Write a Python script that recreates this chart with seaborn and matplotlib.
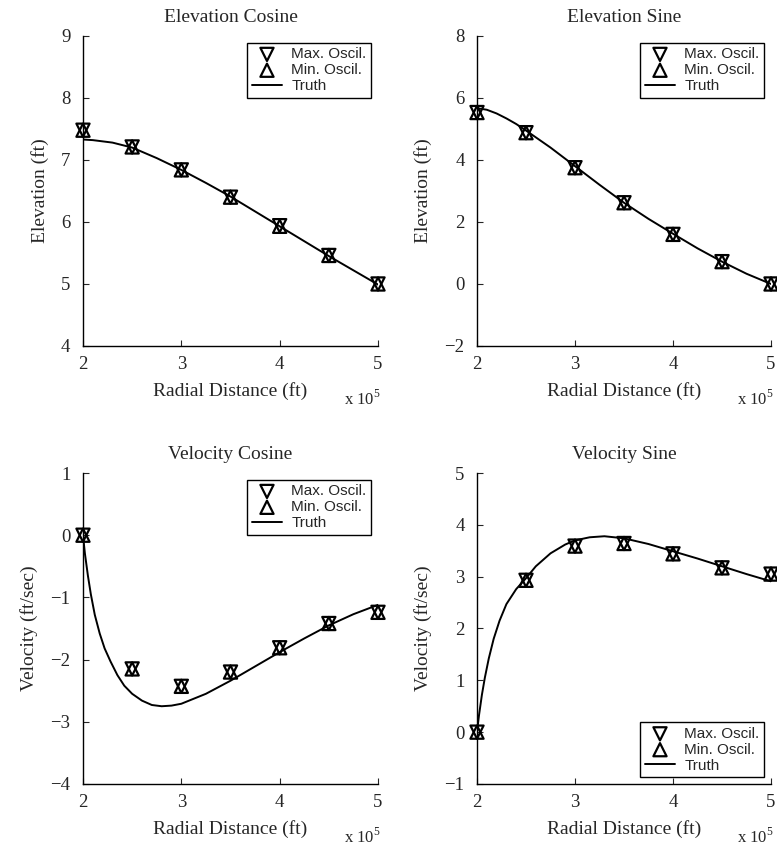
import numpy as np
import pandas as pd
import matplotlib
matplotlib.use("Agg")
import matplotlib.pyplot as plt
import seaborn as sns

# ---------------- data (x in units of 1e5 ft) ----------------
x_mark = [2.0, 2.5, 3.0, 3.5, 4.0, 4.5, 5.0]

elev_cos_max = [7.48, 7.21, 6.84, 6.40, 5.94, 5.46, 5.00]
elev_cos_min = [7.48, 7.21, 6.84, 6.40, 5.93, 5.46, 5.00]
elev_cos_tx = [2.0, 2.1, 2.2, 2.3, 2.4, 2.5, 2.75, 3.0, 3.25, 3.5, 3.75, 4.0, 4.25, 4.5, 4.75, 5.0]
elev_cos_ty = [7.33, 7.32, 7.30, 7.28, 7.24, 7.20, 7.03, 6.84, 6.63, 6.41, 6.17, 5.93, 5.69, 5.45, 5.22, 4.99]

elev_sin_max = [5.53, 4.88, 3.75, 2.62, 1.60, 0.72, 0.00]
elev_sin_min = [5.53, 4.88, 3.75, 2.62, 1.60, 0.72, 0.00]
elev_sin_tx = [2.0, 2.1, 2.2, 2.3, 2.4, 2.5, 2.75, 3.0, 3.25, 3.5, 3.75, 4.0, 4.25, 4.5, 4.75, 5.0]
elev_sin_ty = [5.67, 5.62, 5.50, 5.34, 5.16, 4.95, 4.40, 3.80, 3.20, 2.62, 2.10, 1.62, 1.15, 0.72, 0.33, 0.00]

vel_cos_max = [0.00, -2.15, -2.43, -2.20, -1.81, -1.42, -1.24]
vel_cos_min = [0.00, -2.15, -2.43, -2.20, -1.81, -1.42, -1.24]
vel_cos_tx = [2.0, 2.02, 2.05, 2.08, 2.12, 2.17, 2.22, 2.28, 2.35, 2.42, 2.5, 2.6, 2.7, 2.8, 2.9,
              3.0, 3.25, 3.5, 3.75, 4.0, 4.25, 4.5, 4.75, 5.0]
vel_cos_ty = [0.0, -0.30, -0.65, -0.95, -1.28, -1.58, -1.82, -2.03, -2.25, -2.42, -2.55, -2.66, -2.73, -2.75, -2.74,
              -2.71, -2.55, -2.34, -2.11, -1.88, -1.66, -1.45, -1.27, -1.12]

vel_sin_max = [0.00, 2.93, 3.59, 3.64, 3.44, 3.17, 3.05]
vel_sin_min = [0.00, 2.93, 3.59, 3.64, 3.44, 3.17, 3.05]
vel_sin_tx = [2.0, 2.02, 2.05, 2.08, 2.12, 2.17, 2.23, 2.30, 2.40, 2.5, 2.6, 2.75, 2.9, 3.0, 3.15, 3.3,
              3.5, 3.75, 4.0, 4.25, 4.5, 4.75, 5.0]
vel_sin_ty = [0.0, 0.32, 0.72, 1.05, 1.42, 1.80, 2.15, 2.47, 2.76, 2.97, 3.20, 3.45, 3.62, 3.70, 3.76, 3.78,
              3.74, 3.63, 3.49, 3.35, 3.20, 3.05, 2.91]

titles = ["Elevation Cosine", "Elevation Sine", "Velocity Cosine", "Velocity Sine"]
ylabels = ["Elevation (ft)", "Elevation (ft)", "Velocity (ft/sec)", "Velocity (ft/sec)"]
ylims = [(4, 9), (-2, 8), (-4, 1), (-1, 5)]
yticks = [[4, 5, 6, 7, 8, 9], [-2, 0, 2, 4, 6, 8], [-4, -3, -2, -1, 0, 1], [-1, 0, 1, 2, 3, 4, 5]]
xticks = [2, 3, 4, 5]
legend_locs = ["upper right", "upper right", "upper right", "lower right"]

panels = [
    (elev_cos_max, elev_cos_min, elev_cos_tx, elev_cos_ty),
    (elev_sin_max, elev_sin_min, elev_sin_tx, elev_sin_ty),
    (vel_cos_max, vel_cos_min, vel_cos_tx, vel_cos_ty),
    (vel_sin_max, vel_sin_min, vel_sin_tx, vel_sin_ty),
]

# ---------------- style ----------------
sns.set_style("ticks")
plt.rcParams["font.family"] = ["Liberation Serif", "DejaVu Serif"]
plt.rcParams["mathtext.fontset"] = "custom"
plt.rcParams["mathtext.rm"] = "Liberation Serif"
plt.rcParams["axes.unicode_minus"] = True

fig = plt.figure(figsize=(7.77, 8.48), dpi=100)
rects = [
    [0.1068, 0.5920, 0.3797, 0.3656],
    [0.6139, 0.5920, 0.3784, 0.3656],
    [0.1068, 0.0755, 0.3797, 0.3667],
    [0.6139, 0.0755, 0.3784, 0.3667],
]

for i, (mx, mn, tx, ty) in enumerate(panels):
    ax = fig.add_axes(rects[i])
    dfm = pd.DataFrame({"x": x_mark, "max": mx, "min": mn})
    dft = pd.DataFrame({"x": tx, "y": ty})
    sns.scatterplot(data=dfm, x="x", y="max", ax=ax, marker="v", s=90,
                    facecolor="none", edgecolor="black", linewidth=1.6,
                    label="Max. Oscil.", clip_on=False, zorder=3)
    sns.scatterplot(data=dfm, x="x", y="min", ax=ax, marker="^", s=90,
                    facecolor="none", edgecolor="black", linewidth=1.6,
                    label="Min. Oscil.", clip_on=False, zorder=3)
    sns.lineplot(data=dft, x="x", y="y", ax=ax, color="black", linewidth=1.4,
                 label="Truth", zorder=2)

    ax.set_xlim(2, 5)
    ax.set_ylim(*ylims[i])
    ax.set_xticks(xticks)
    ax.set_yticks(yticks[i])
    ax.set_title(titles[i], fontsize=14, pad=10)
    ax.set_xlabel("Radial Distance (ft)", fontsize=14, labelpad=7)
    ax.set_ylabel(ylabels[i], fontsize=14, labelpad=9)
    ax.tick_params(direction="in", length=4, width=0.8, labelsize=13.5, pad=7)
    ax.tick_params(axis="y", pad=9)
    sns.despine(ax=ax)
    for sp in ("left", "bottom"):
        ax.spines[sp].set_linewidth(1.0)
        ax.spines[sp].set_color("black")

    ax.text(1.01, -0.17, r"x 10$^{5}$", transform=ax.transAxes,
            ha="right", va="center", fontsize=12)

    leg = ax.legend(loc=legend_locs[i], fancybox=False, framealpha=1,
                    edgecolor="black", scatterpoints=1,
                    prop={"family": ["Liberation Sans"], "size": 11},
                    handlelength=2.0, handletextpad=0.6, labelspacing=0.12,
                    borderpad=0.3, borderaxespad=0.45)
    leg.get_frame().set_linewidth(1.0)

fig.savefig("out.png", dpi=100)
